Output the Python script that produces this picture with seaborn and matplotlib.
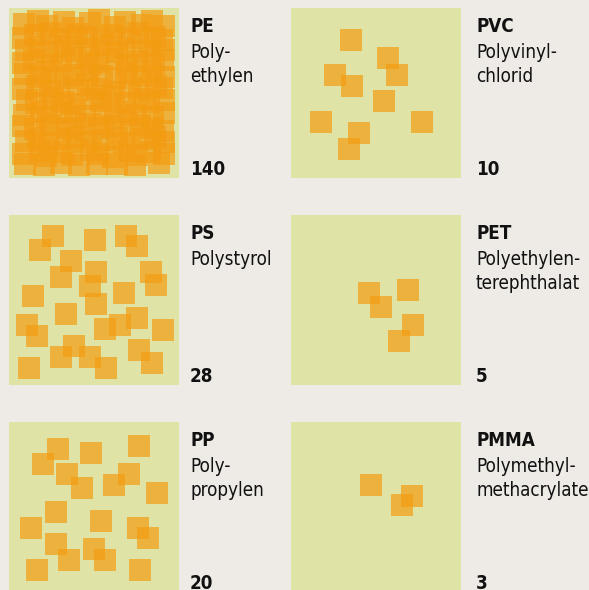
import seaborn as sns
import matplotlib.pyplot as plt
import pandas as pd

sns.set_style("white")
plt.rcParams["font.family"] = ["DejaVu Sans"]
plt.rcParams["font.stretch"] = "condensed"

# Plastic types, German names and particle counts
codes = ["PE", "PVC", "PS", "PET", "PP", "PMMA"]
names = [
    "Poly-\nethylen",
    "Polyvinyl-\nchlorid",
    "Polystyrol",
    "Polyethylen-\nterephthalat",
    "Poly-\npropylen",
    "Polymethyl-\nmethacrylate",
]
counts = [140, 10, 28, 5, 20, 3]

# Square centres inside each 170x170 panel (panel pixels, y downward)
pe_x = [15, 29, 38, 55, 64, 81, 90, 106, 116, 133, 143, 155,
        14, 26, 42, 51, 68, 77, 94, 103, 120, 129, 146, 153,
        17, 30, 39, 56, 63, 80, 91, 108, 115, 134, 141, 155,
        14, 25, 43, 52, 67, 82, 89, 104, 119, 128, 145, 154,
        16, 31, 37, 57, 65, 78, 93, 107, 117, 132, 142, 155,
        14, 28, 41, 50, 69, 79, 88, 105, 121, 130, 147, 153,
        18, 27, 44, 54, 62, 83, 92, 102, 116, 135, 140, 155,
        15, 32, 38, 53, 66, 76, 95, 106, 118, 127, 144, 155,
        14, 26, 42, 58, 64, 81, 90, 103, 122, 131, 143, 154,
        17, 29, 40, 51, 68, 77, 94, 108, 115, 134, 146, 155,
        14, 31, 37, 55, 63, 82, 89, 104, 120, 128, 141, 155,
        16, 35, 52, 70, 88, 108, 126, 150]
pe_y = [16, 13, 18, 14, 20, 15, 12, 19, 14, 17, 13, 18,
        30, 27, 25, 31, 26, 29, 33, 27, 30, 25, 29, 32,
        42, 39, 44, 38, 43, 41, 37, 44, 40, 43, 38, 42,
        55, 52, 57, 53, 50, 56, 54, 51, 57, 53, 56, 52,
        66, 69, 64, 70, 67, 63, 68, 70, 65, 68, 64, 69,
        81, 78, 83, 79, 82, 77, 81, 84, 79, 82, 78, 80,
        92, 95, 90, 94, 96, 91, 93, 89, 95, 91, 94, 92,
        107, 104, 109, 105, 103, 108, 106, 110, 104, 107, 109, 105,
        118, 121, 117, 120, 122, 116, 120, 118, 121, 117, 120, 123,
        133, 130, 135, 131, 129, 134, 132, 130, 135, 131, 129, 134,
        146, 143, 148, 144, 147, 142, 146, 149, 143, 147, 144, 146,
        156, 157, 155, 157, 156, 156, 157, 155]

pvc_x = [59.5, 96.5, 43.5, 105.5, 60.5, 92.5, 29.5, 131.5, 67.5, 57.5]
pvc_y = [31.5, 49.5, 66.5, 66.5, 77.5, 92.5, 113.5, 113.5, 124.5, 140.5]

ps_x = [43.5, 30.5, 85.5, 116.5, 127.5, 61.5, 51.5, 86.5, 80.5, 141.5,
        146.5, 23.5, 114.5, 86.5, 56.5, 17.5, 27.5, 95.5, 110.5, 127.5,
        153.5, 64.5, 51.5, 80.5, 129.5, 142.5, 19.5, 96.5]
ps_y = [20.5, 34.5, 24.5, 20.5, 30.5, 45.5, 61.5, 56.5, 70.5, 56.5,
        69.5, 80.5, 77.5, 88.5, 98.5, 109.5, 120.5, 113.5, 109.5, 102.5,
        114.5, 130.5, 141.5, 141.5, 134.5, 147.5, 152.5, 152.5]

pet_x = [77.5, 89.5, 117.5, 122.5, 108.5]
pet_y = [77.5, 91.5, 74.5, 109.5, 125.5]

pp_x = [48.5, 33.5, 81.5, 129.5, 57.5, 72.5, 104.5, 119.5, 147.5, 46.5,
        21.5, 91.5, 128.5, 138.5, 46.5, 84.5, 59.5, 95.5, 27.5, 130.5]
pp_y = [26.5, 41.5, 30.5, 23.5, 51.5, 65.5, 62.5, 51.5, 70.5, 89.5,
        105.5, 98.5, 105.5, 115.5, 121.5, 126.5, 137.5, 137.5, 147.5, 147.5]

pmma_x = [79.5, 121.5, 111.5]
pmma_y = [62.5, 73.5, 82.5]

xs = [pe_x, pvc_x, ps_x, pet_x, pp_x, pmma_x]
ys = [pe_y, pvc_y, ps_y, pet_y, pp_y, pmma_y]

W, H = 589, 590
bg = "#EEEBE6"
panel = "#DFE3A5"
orange = "#F39C12"

fig = plt.figure(figsize=(W / 100, H / 100), dpi=100, facecolor=bg)

lefts = [9, 291]
tops = [8, 215, 422]
text_x = [190, 476]
size = 170

for i, code in enumerate(codes):
    col, row = i % 2, i // 2
    left, top = lefts[col], tops[row]
    ax = fig.add_axes([left / W, 1 - (top + size) / H, size / W, size / H])
    ax.set_facecolor(panel)
    df = pd.DataFrame({"x": xs[i], "y": ys[i]})
    sns.scatterplot(data=df, x="x", y="y", ax=ax, marker="s", s=229,
                    color=orange, alpha=0.7, linewidth=0)
    ax.set_xlim(0, size)
    ax.set_ylim(size, 0)
    ax.set_xticks([])
    ax.set_yticks([])
    ax.set_xlabel("")
    ax.set_ylabel("")
    for s in ax.spines.values():
        s.set_visible(False)

    tx = text_x[col] / W
    fig.text(tx, 1 - (top + 24) / H, code, fontsize=13.5, fontweight="bold",
             va="baseline", ha="left", color="#111111")
    for j, line in enumerate(names[i].split("\n")):
        fig.text(tx, 1 - (top + 50 + 24 * j) / H, line, fontsize=13.5,
                 va="baseline", ha="left", color="#111111")
    fig.text(tx, 1 - (top + 167) / H, str(counts[i]), fontsize=13.5,
             fontweight="bold", va="baseline", ha="left", color="#111111")

fig.savefig("out.png", dpi=100, facecolor=bg)
plt.close(fig)
